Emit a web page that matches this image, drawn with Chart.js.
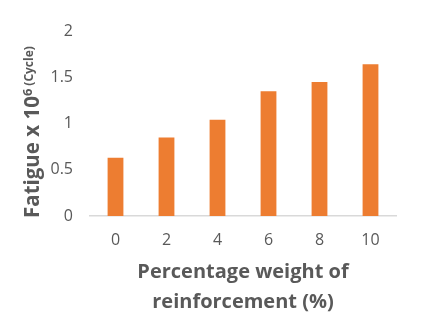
<!DOCTYPE html>
<html>
<head>
<meta charset="utf-8">
<script src="https://cdn.jsdelivr.net/npm/chart.js@4"></script>
<style>
  html, body { margin: 0; padding: 0; background: #fff; }
  #wrap { width: 425px; height: 329px; }
</style>
</head>
<body>
<div id="wrap"><canvas id="chart" width="425" height="329"></canvas></div>
<script>
// --- data ---
const reinforcement = ["0", "2", "4", "6", "8", "10"];
const fatigue = [0.63, 0.85, 1.04, 1.35, 1.45, 1.64];
const yTicks = [0, 0.5, 1, 1.5, 2];

const FONT = "'Open Sans', 'Noto Sans', sans-serif";
const GREY = "#595959";

// y title has a superscript and a smaller "(Cycle)", so draw it by hand
const yTitlePlugin = {
  id: "yTitle",
  afterDraw(chart) {
    const ctx = chart.ctx;
    ctx.save();
    ctx.translate(39, 218);
    ctx.rotate(-Math.PI / 2);
    ctx.fillStyle = GREY;
    ctx.textBaseline = "alphabetic";
    ctx.textAlign = "left";
    let x = 0;
    ctx.font = "bold 20.5px " + FONT;
    ctx.fillText("Fatigue x 10", x, 0);
    x += ctx.measureText("Fatigue x 10").width;
    ctx.font = "bold 13px " + FONT;
    ctx.fillText("6", x, -7);
    x += ctx.measureText("6").width + 3;
    ctx.font = "bold 12px " + FONT;
    ctx.fillText("(Cycle)", x, -6);
    ctx.restore();
  }
};

new Chart(document.getElementById("chart"), {
  type: "bar",
  data: {
    labels: reinforcement,
    datasets: [{
      data: fatigue,
      backgroundColor: "#ED7D31",
      barPercentage: 1,
      categoryPercentage: 0.31
    }]
  },
  options: {
    responsive: false,
    animation: false,
    layout: { padding: { top: 31, right: 29, bottom: 0, left: 0 } },
    plugins: { legend: { display: false }, tooltip: { enabled: false } },
    scales: {
      x: {
        grid: { display: false, drawTicks: false },
        border: { display: true, color: "#d9d9d9", width: 1.5 },
        ticks: { color: GREY, font: { family: FONT, size: 16 }, padding: 15 },
        title: {
          display: true,
          text: ["Percentage weight of", "reinforcement (%)"],
          color: GREY,
          font: { family: FONT, size: 20, weight: "bold", lineHeight: 1.5 },
          padding: { top: 0, bottom: 12 }
        },
        afterFit(scale) { scale.height = 113; }
      },
      y: {
        min: 0,
        max: 2,
        afterBuildTicks(scale) { scale.ticks = yTicks.map(v => ({ value: v })); },
        grid: { display: false, drawTicks: false },
        border: { display: false },
        ticks: {
          color: GREY,
          font: { family: FONT, size: 16 },
          padding: 17,
          callback: v => String(v)
        },
        afterFit(scale) { scale.width = 90; }
      }
    }
  },
  plugins: [yTitlePlugin]
});
</script>
</body>
</html>
